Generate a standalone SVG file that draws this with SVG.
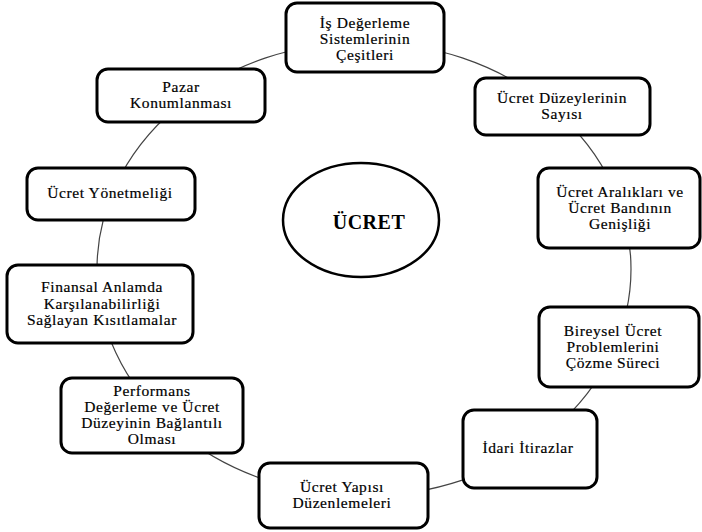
<svg xmlns="http://www.w3.org/2000/svg" width="702" height="532" viewBox="0 0 702 532">
<style>
.box{fill:#fff;stroke:#000;stroke-width:3}
.t{font-family:'Liberation Serif','DejaVu Serif',serif;font-size:15.5px;letter-spacing:0.6px;fill:#000;stroke:#000;stroke-width:0.2;text-anchor:middle}
.b{font-family:'Liberation Serif','DejaVu Serif',serif;font-size:20px;font-weight:bold;letter-spacing:0.5px;fill:#000;text-anchor:middle}
.c{fill:none;stroke:#444;stroke-width:1.2}
</style>
<rect width="702" height="532" fill="#fff"/>
<g id="connectors">
<ellipse class="c" cx="364" cy="269" rx="267" ry="227"/>
</g>
<g id="center">
<ellipse cx="361" cy="220" rx="78" ry="57" fill="#fff" stroke="#000" stroke-width="2.5"/>
<text class="b" x="369" y="229">ÜCRET</text>
</g>
<g id="n1">
<rect class="box" x="286" y="3" width="158" height="69" rx="11"/>
<text class="t" x="365" y="27.5">İş Değerleme</text>
<text class="t" x="365" y="43.5">Sistemlerinin</text>
<text class="t" x="365" y="59.5">Çeşitleri</text>
</g>
<g id="n2">
<rect class="box" x="475" y="78" width="175" height="57" rx="11"/>
<text class="t" x="562" y="103">Ücret Düzeylerinin</text>
<text class="t" x="562" y="119">Sayısı</text>
</g>
<g id="n3">
<rect class="box" x="538" y="168" width="162" height="80" rx="11"/>
<text class="t" x="620" y="197">Ücret Aralıkları ve</text>
<text class="t" x="620" y="213">Ücret Bandının</text>
<text class="t" x="620" y="229">Genişliği</text>
</g>
<g id="n4">
<rect class="box" x="539" y="307" width="160" height="80" rx="11"/>
<text class="t" x="613" y="336">Bireysel Ücret</text>
<text class="t" x="613" y="352">Problemlerini</text>
<text class="t" x="613" y="368">Çözme Süreci</text>
</g>
<g id="n5">
<rect class="box" x="463" y="410" width="134" height="78" rx="11"/>
<text class="t" x="528" y="453">İdari İtirazlar</text>
</g>
<g id="n6">
<rect class="box" x="259" y="463" width="169" height="65" rx="11"/>
<text class="t" x="342" y="492">Ücret Yapısı</text>
<text class="t" x="342" y="508">Düzenlemeleri</text>
</g>
<g id="n7">
<rect class="box" x="61" y="378" width="182" height="75" rx="11"/>
<text class="t" x="152" y="396">Performans</text>
<text class="t" x="152" y="412">Değerleme ve Ücret</text>
<text class="t" x="152" y="428">Düzeyinin Bağlantılı</text>
<text class="t" x="152" y="444">Olması</text>
</g>
<g id="n8">
<rect class="box" x="7" y="265" width="186" height="78" rx="11"/>
<text class="t" x="102" y="292">Finansal Anlamda</text>
<text class="t" x="102" y="308.5">Karşılanabilirliği</text>
<text class="t" x="102" y="325">Sağlayan Kısıtlamalar</text>
</g>
<g id="n9">
<rect class="box" x="27" y="168" width="168" height="52" rx="11"/>
<text class="t" x="110" y="198">Ücret Yönetmeliği</text>
</g>
<g id="n10">
<rect class="box" x="97" y="69" width="168" height="53" rx="11"/>
<text class="t" x="181" y="92">Pazar</text>
<text class="t" x="181" y="108">Konumlanması</text>
</g>
</svg>
